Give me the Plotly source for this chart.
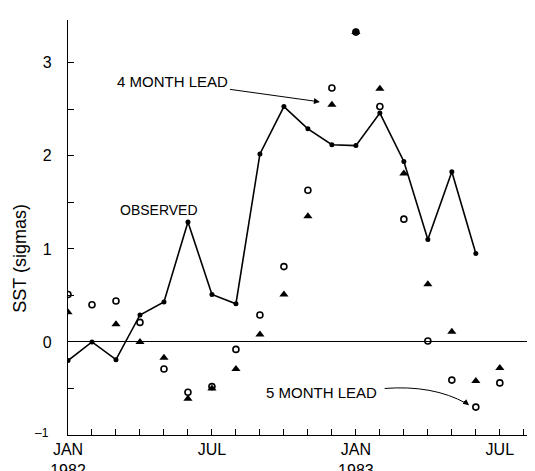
import plotly.graph_objects as go

# month index: 0 = Jan 1982
obs_months = list(range(18))
observed = [-0.20, 0.00, -0.19, 0.29, 0.43, 1.29, 0.51, 0.41, 2.02, 2.53,
            2.29, 2.12, 2.11, 2.46, 1.94, 1.10, 1.83, 0.95]

lead_months = list(range(19))
lead4 = [0.32, None, 0.19, 0.00, -0.17, -0.61, -0.50, -0.29, 0.08, 0.51,
         1.35, 2.55, 3.33, 2.72, 1.81, 0.62, 0.11, -0.42, -0.28]
lead5 = [0.51, 0.40, 0.44, 0.21, -0.29, -0.54, -0.48, -0.08, 0.29, 0.81,
         1.63, 2.73, 3.33, 2.53, 1.32, 0.01, -0.41, -0.70, -0.44]

x_tick_vals = list(range(20))
x_tick_text = {0: "JAN<br>1982", 6: "JUL", 12: "JAN<br>1983", 18: "JUL"}
y_tick_vals = [-1, -0.5, 0, 0.5, 1, 1.5, 2, 2.5, 3]
y_tick_text = {0: "0", 1: "1", 2: "2", 3: "3"}

FONT = "Liberation Sans, Arial, sans-serif"

fig = go.Figure()
fig.add_trace(go.Scatter(x=lead_months, y=lead5, mode="markers",
                         marker=dict(symbol="circle-open", color="black", size=6,
                                     line=dict(width=1.6, color="black")),
                         showlegend=False))
fig.add_trace(go.Scatter(x=lead_months, y=lead4, mode="markers",
                         marker=dict(symbol="triangle-up", color="black", size=8),
                         showlegend=False))
fig.add_trace(go.Scatter(x=obs_months, y=observed, mode="lines+markers",
                         line=dict(color="black", width=1.6),
                         marker=dict(color="black", size=5),
                         showlegend=False, hoverinfo="skip"))

fig.update_xaxes(range=[0, 19.8], tickmode="array", tickvals=x_tick_vals,
                 ticktext=[x_tick_text.get(v, "") for v in x_tick_vals],
                 ticks="inside", ticklen=6, tickwidth=1.2, tickcolor="black",
                 showline=True, linecolor="black", linewidth=1.4,
                 showgrid=False, zeroline=False,
                 tickfont=dict(family=FONT, size=16, color="black"))
fig.update_yaxes(range=[-1, 3.46], tickmode="array", tickvals=y_tick_vals,
                 ticktext=[y_tick_text.get(v, "") for v in y_tick_vals],
                 ticks="inside", ticklen=6, tickwidth=1.2, tickcolor="black",
                 showline=True, linecolor="black", linewidth=1.4,
                 showgrid=False, zeroline=True, zerolinecolor="black",
                 zerolinewidth=1.2, ticklabelstandoff=12,
                 tickfont=dict(family=FONT, size=16, color="black"))

fig.add_annotation(xref="paper", yref="paper", x=-0.035, y=0.005,
                   xanchor="right", yanchor="middle",
                   text="–1", showarrow=False,
                   font=dict(family=FONT, size=12, color="black"))
fig.add_annotation(xref="paper", yref="y", x=-0.1, y=0.90,
                   xanchor="center", yanchor="middle",
                   text="SST (sigmas)", textangle=-90, showarrow=False,
                   font=dict(family=FONT, size=18, color="black"))
fig.add_annotation(x=3.79, y=1.42, text="OBSERVED", showarrow=False,
                   font=dict(family=FONT, size=14, color="black"))
fig.add_annotation(x=10.5, y=2.58, ax=4.375, ay=2.80, axref="x", ayref="y",
                   text="4 MONTH LEAD", showarrow=True, arrowhead=2,
                   arrowsize=1.2, arrowwidth=1, arrowcolor="black",
                   font=dict(family=FONT, size=15, color="black"))
fig.add_annotation(x=10.58, y=-0.54, text="5 MONTH LEAD", showarrow=False,
                   font=dict(family=FONT, size=15, color="black"))
fig.add_shape(type="path", xref="x", yref="y",
              path="M 13.2,-0.50 Q 15.2,-0.46 16.6,-0.66",
              line=dict(color="black", width=1))
fig.add_annotation(x=16.72, y=-0.68, ax=16.45, ay=-0.625, axref="x", ayref="y",
                   text="", showarrow=True, arrowhead=2, arrowsize=1.2,
                   arrowwidth=1, arrowcolor="black")

fig.update_layout(width=535, height=471,
                  margin=dict(l=60, r=0, t=12, b=31),
                  paper_bgcolor="white", plot_bgcolor="white",
                  font=dict(family=FONT, color="black"))

fig.write_html("out.html")
